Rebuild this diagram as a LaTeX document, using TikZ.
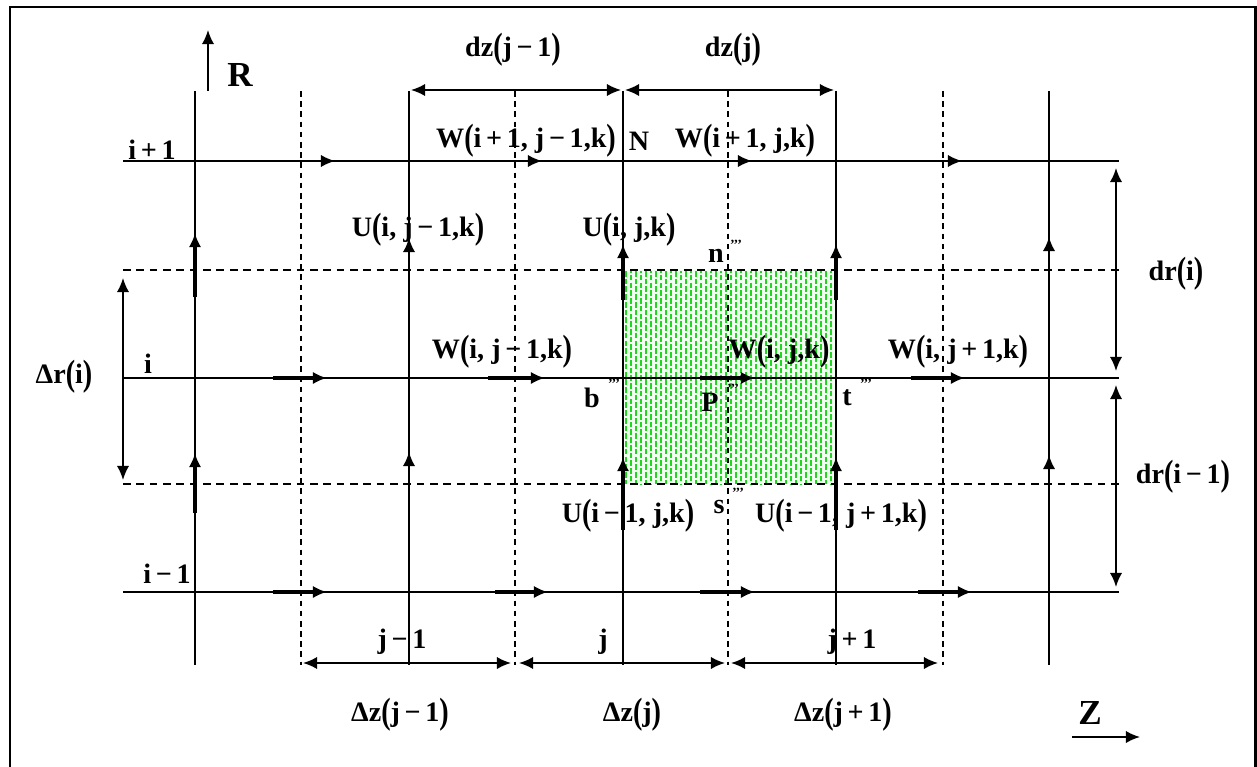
\documentclass[tikz,border=0pt]{standalone}
\usepackage{fontspec}
\setmainfont{Liberation Serif}
\usetikzlibrary{arrows.meta}
\definecolor{hatch}{RGB}{30,215,30}
\newcommand{\LP}{\raisebox{-0.2ex}{\scalebox{1}[1.3]{(}}}
\newcommand{\RP}{\raisebox{-0.2ex}{\scalebox{1}[1.3]{)}}}
\newcommand{\mn}{\,−\,}
\newcommand{\pl}{\,+\,}
\begin{document}
\begin{tikzpicture}[x=0.02cm,y=-0.02cm,
  lab/.style={font=\fontsize{16}{19}\selectfont\bfseries, inner sep=0pt},
  axlab/.style={font=\fontsize{20}{24}\selectfont\bfseries, inner sep=0pt},
  marks/.style={font=\fontsize{8}{8}\selectfont\bfseries, inner sep=0pt},
  gline/.style={line width=1.1pt},
  vdash/.style={line width=1.2pt, dash pattern=on 3.2pt off 2.6pt},
  hdash/.style={line width=1.2pt, dash pattern=on 4.4pt off 3.2pt},
  tipped/.style={line width=1.1pt, -{Latex[length=8pt,width=7pt]}},
  flux/.style={line width=2.4pt, -{Latex[length=8pt,width=7pt]}},
  dim/.style={line width=1.1pt, {Latex[length=8pt,width=7pt]}-{Latex[length=8pt,width=7pt]}},
  hatchline/.style={hatch, line width=0.8pt, dash pattern=on 3.2pt off 1.2pt}
]
\useasboundingbox (0,0) rectangle (1257,767);
% frame
\draw[line width=1.7pt] (10,790) -- (10,7) -- (1255,7) -- (1255,790);

% green cell
\fill[green!6] (623,270) rectangle (836,484);
\foreach \x in {626,636,...,834} \draw[hatchline] (\x,271) -- (\x,484);
\foreach \x in {631,641,...,834} \draw[hatchline, dash phase=2.2pt] (\x,271) -- (\x,484);

% grid lines
\foreach \x in {195,409,623,836,1049} \draw[gline] (\x,91) -- (\x,665);
\foreach \x in {301,515,728,943} \draw[vdash] (\x,91) -- (\x,665);
\foreach \y in {161,378,592} \draw[gline] (123,\y) -- (1119,\y);
\foreach \y in {270,484} \draw[hdash] (123,\y) -- (1119,\y);

% horizontal velocity arrows
\foreach \x in {335,542,752,962} \draw[tipped] (\x-20,161) -- (\x,161);
\draw[flux] (273,378) -- (327,378);
\draw[flux] (488,378) -- (545,378);
\draw[flux] (700,378) -- (755,378);
\draw[flux] (911,378) -- (965,378);
\draw[flux] (273,592) -- (327,592);
\draw[flux] (495,592) -- (548,592);
\draw[flux] (700,592) -- (755,592);
\draw[flux] (918,592) -- (972,592);

% vertical velocity arrows
\draw[flux] (195,297) -- (195,233);
\draw[tipped] (409,262) -- (409,238);
\draw[flux] (623,300) -- (623,244);
\draw[flux] (836,300) -- (836,244);
\draw[tipped] (1049,262) -- (1049,237);
\draw[flux] (195,513) -- (195,453);
\draw[tipped] (409,480) -- (409,452);
\draw[flux] (623,530) -- (623,457);
\draw[flux] (836,530) -- (836,457);
\draw[tipped] (1049,480) -- (1049,455);

% axes
\coordinate (r0) at (208,91); \coordinate (r1) at (208,30);
\draw[tipped] (r0) -- (r1);
\node[axlab] (R) at (240,75) {R};
\coordinate (z0) at (1072,737); \coordinate (z1) at (1140,737);
\draw[tipped] (z0) -- (z1);
\node[axlab] (Z) at (1090,713) {Z};

% dimension arrows
\coordinate (dza) at (411,90); \coordinate (dzb) at (621,90); \coordinate (dzc) at (625,90); \coordinate (dzd) at (834,90);
\draw[dim] (dza) -- (dzb);
\draw[dim] (dzc) -- (dzd);
\coordinate (dra) at (1116,168); \coordinate (drb) at (1116,371);
\coordinate (drc) at (1116,385); \coordinate (drd) at (1116,587);
\draw[dim] (dra) -- (drb);
\draw[dim] (drc) -- (drd);
\coordinate (Dra) at (123,278); \coordinate (Drb) at (123,480);
\draw[dim] (Dra) -- (Drb);
\coordinate (Dza) at (303,663); \coordinate (Dzb) at (511,663);
\coordinate (Dzc) at (519,663); \coordinate (Dzd) at (725,663);
\coordinate (Dze) at (731,663); \coordinate (Dzf) at (938,663);
\draw[dim] (Dza) -- (Dzb);
\draw[dim] (Dzc) -- (Dzd);
\draw[dim] (Dze) -- (Dzf);

% labels
\node[lab] (ip1) at (152,150) {i\pl 1};
\node[lab] (ii) at (148,364) {i};
\node[lab] (im1) at (167,574) {i\mn 1};
\node[lab] (Dr) at (64,377) {Δr\LP i\RP};
\node[lab] (dzjm) at (513,50) {dz\LP j\mn 1\RP};
\node[lab] (dzj) at (733,50) {dz\LP j\RP};
\node[lab] (W1) at (526,141) {W\LP i\pl 1, j\mn 1,k\RP};
\node[lab] (N) at (639,141) {N};
\node[lab] (W2) at (745,141) {W\LP i\pl 1, j,k\RP};
\node[lab] (U1) at (418,230) {U\LP i, j\mn 1,k\RP};
\node[lab] (U2) at (629,230) {U\LP i, j,k\RP};
\node[lab] (n) at (716,256) {n};
\node[marks] (nm) at (736,245) {’’’};
\node[lab] (dri) at (1176,274) {dr\LP i\RP};
\node[lab] (drim) at (1183,477) {dr\LP i\mn 1\RP};
\node[lab] (W3) at (502,352) {W\LP i, j\mn 1,k\RP};
\node[lab] (W4) at (779,352) {W\LP i, j,k\RP};
\node[lab] (W5) at (958,352) {W\LP i, j\pl 1,k\RP};
\node[lab] (b) at (592,398) {b};
\node[marks] (bm) at (614,384) {’’’};
\node[lab] (P) at (710,402) {P};
\node[marks] (Pm) at (733,389) {’’’};
\node[lab] (t) at (847,398) {t};
\node[marks] (tm) at (866,384) {’’’};
\node[lab] (s) at (719,507) {s};
\node[marks] (sm) at (738,493) {’’’};
\node[lab] (U3) at (628,516) {U\LP i\mn 1, j,k\RP};
\node[lab] (U4) at (841,516) {U\LP i\mn 1, j\pl 1,k\RP};
\node[lab] (jm) at (402,642) {j\mn 1};
\node[lab] (j) at (603,642) {j};
\node[lab] (jp) at (852,642) {j\pl 1};
\node[lab] (Dzjm) at (400,715) {Δz\LP j\mn 1\RP};
\node[lab] (Dzj) at (632,715) {Δz\LP j\RP};
\node[lab] (Dzjp) at (843,715) {Δz\LP j\pl 1\RP};
\end{tikzpicture}
\end{document}
